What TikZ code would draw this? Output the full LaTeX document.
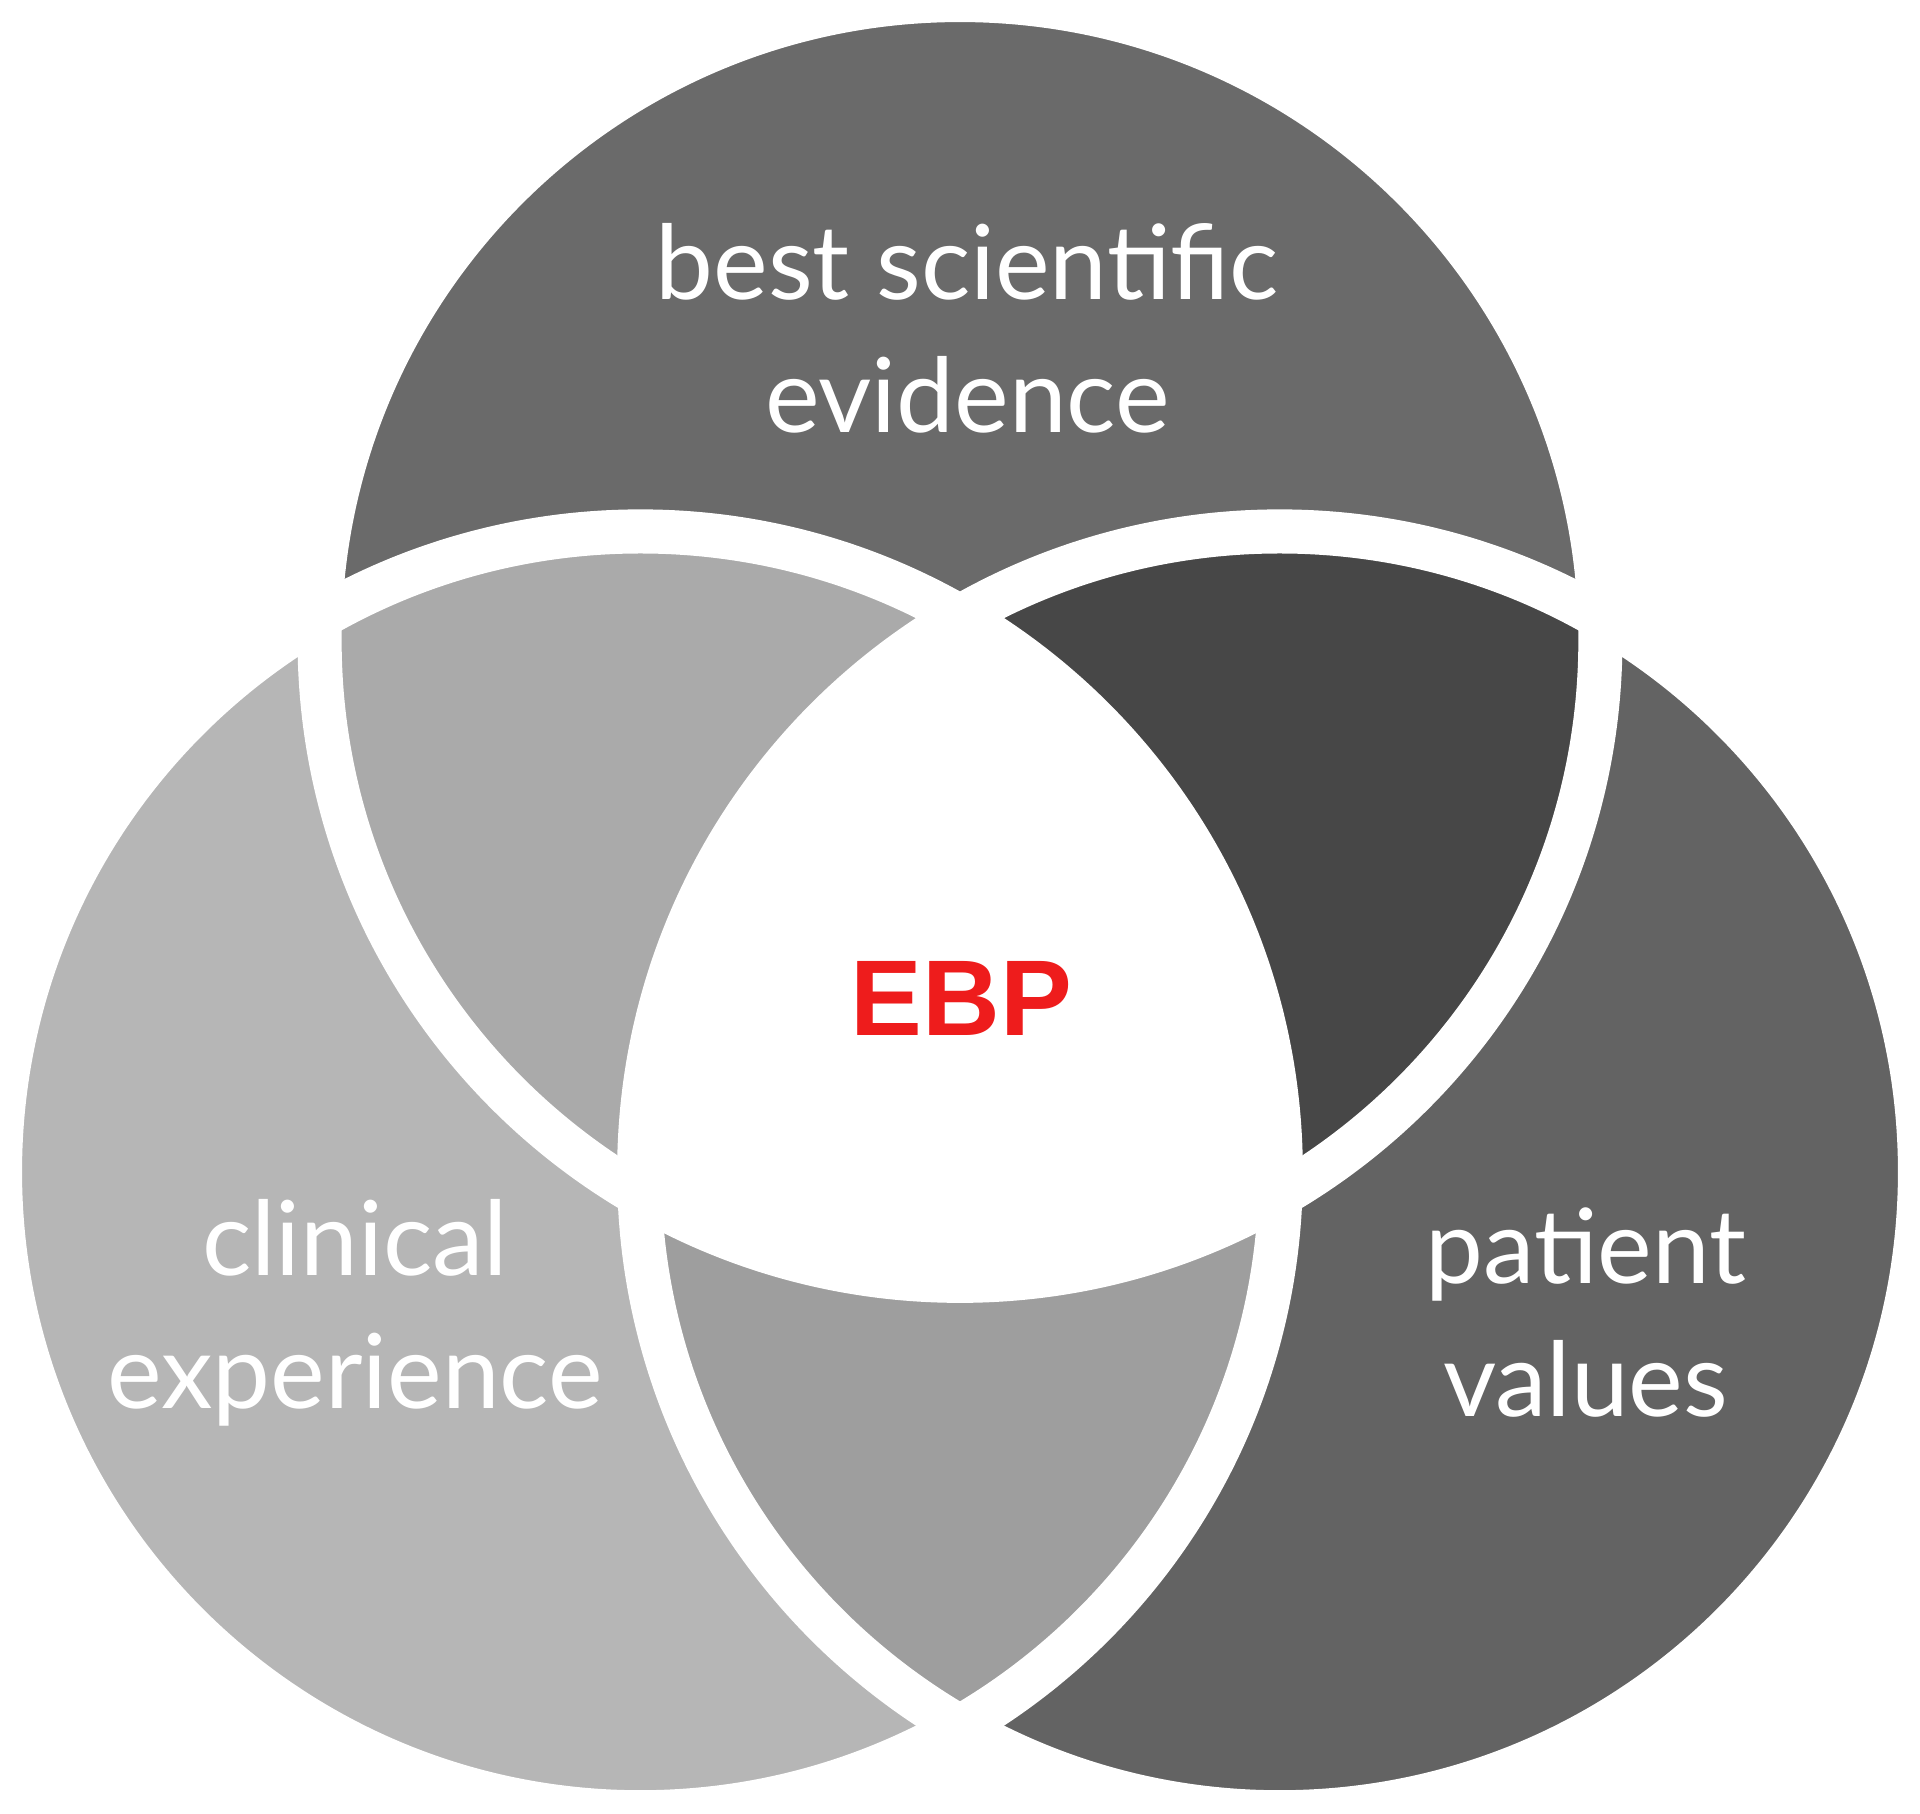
\documentclass[tikz,border=0pt]{standalone}
\usepackage{fontspec}
\setmainfont{Lato}
\newfontfamily\ebpfont{Liberation Sans}
\definecolor{evidgray}{HTML}{6A6A6A}
\definecolor{clingray}{HTML}{B6B6B6}
\definecolor{patgray}{HTML}{636363}
\definecolor{evclgray}{HTML}{AAAAAA}
\definecolor{evpagray}{HTML}{474747}
\definecolor{clpagray}{HTML}{9E9E9E}
\definecolor{ebpred}{HTML}{EE1C1C}
\begin{document}
\begin{tikzpicture}[x=0.01cm,y=-0.01cm,
  label/.style={text=white, align=center, font=\fontsize{24}{31}\selectfont}]

\def\rad{523}
\def\gap{0.36cm}

\path [use as bounding box] (0,0) rectangle (1568,1481);

% CIRCLES
\fill [evidgray] (784,523) circle (\rad);
\fill [clingray] (523,957) circle (\rad);
\fill [patgray] (1045,957) circle (\rad);

% OVERLAPS
\begin{scope}
	\clip (784,523) circle (\rad);
	\fill [evclgray] (523,957) circle (\rad);
	\fill [evpagray] (1045,957) circle (\rad);
\end{scope}
\begin{scope}
	\clip (523,957) circle (\rad);
	\fill [clpagray] (1045,957) circle (\rad);
	\clip (1045,957) circle (\rad);
	\fill [white] (784,523) circle (\rad);
\end{scope}

% GAPS
\draw [white, line width=\gap] (784,523) circle (\rad);
\draw [white, line width=\gap] (523,957) circle (\rad);
\draw [white, line width=\gap] (1045,957) circle (\rad);

% LABELS
\node [label] (evidence) at (790,268) {best scientific\\evidence};
\node [label] (clinical) at (290,1072) {clinical\\experience};
\node [label] (patient) at (1295,1072) {patient\\values};
\node [text=ebpred, font=\ebpfont\bfseries\fontsize{25}{30}\selectfont] (ebp) at (785,815) {EBP};

\end{tikzpicture}
\end{document}
